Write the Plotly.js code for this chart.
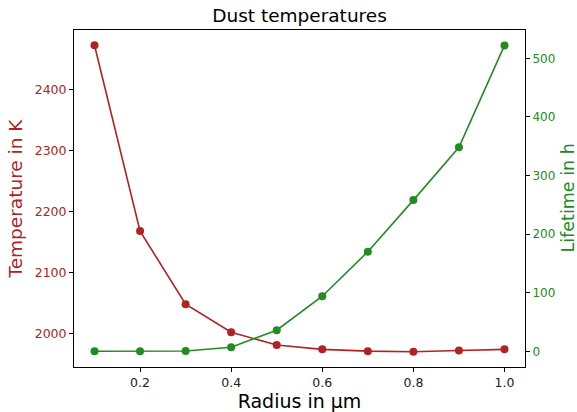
<!DOCTYPE html>
<html>
<head>
<meta charset="utf-8">
<script src="https://cdn.plot.ly/plotly-3.0.1.min.js"></script>
<style>html,body{margin:0;padding:0;background:#fff;}#chart{width:577px;height:412px;}</style>
</head>
<body>
<div id="chart"></div>
<script>
const radius = [0.1, 0.2, 0.3, 0.4, 0.5, 0.6, 0.7, 0.8, 0.9, 1.0];
const temperature = [2473, 2168, 2048, 2002, 1981, 1974, 1971, 1970, 1972, 1974];
const lifetime = [0, 0, 0.5, 7, 36, 94, 170, 258, 348, 522];
const tempTicks = [2000, 2100, 2200, 2300, 2400];
const lifeTicks = [0, 100, 200, 300, 400, 500];
const xTicks = [0.2, 0.4, 0.6, 0.8, 1.0];

const red = '#b22222';
const green = '#228b22';
const font = 'DejaVu Sans, sans-serif';

const traces = [
  {x: radius, y: temperature, type: 'scatter', mode: 'lines+markers', name: 'Temperature',
   line: {color: red, width: 1.6}, marker: {color: red, size: 8}, yaxis: 'y'},
  {x: radius, y: lifetime, type: 'scatter', mode: 'lines+markers', name: 'Lifetime',
   line: {color: green, width: 1.6}, marker: {color: green, size: 8}, yaxis: 'y2'}
];

const layout = {
  width: 577, height: 412,
  margin: {l: 74, r: 52, t: 30, b: 45, pad: 0},
  paper_bgcolor: '#fff', plot_bgcolor: '#fff',
  showlegend: false,
  font: {family: font, color: '#222'},
  title: {text: 'Dust temperatures', font: {size: 18.5, color: '#000', family: font},
          x: 0.5, xref: 'paper', y: 1 - 16/412, yref: 'container', yanchor: 'middle'},
  xaxis: {range: [0.055, 1.045], tickvals: xTicks, ticktext: xTicks.map(v => v.toFixed(1)),
          showgrid: false, zeroline: false, showline: true, mirror: true, linecolor: '#000', linewidth: 1,
          ticks: 'outside', ticklen: 4, tickcolor: '#000', tickfont: {size: 12.5, color: '#222'},
          title: {text: 'Radius in µm', font: {size: 19, color: '#000'}, standoff: 5}},
  yaxis: {range: [1945, 2498], tickvals: tempTicks, showgrid: false, zeroline: false,
          showline: true, linecolor: '#000', linewidth: 1,
          ticks: 'outside', ticklen: 4, tickcolor: '#000', tickfont: {size: 12.5, color: red},
          title: {text: 'Temperature in K', font: {size: 18.5, color: red}, standoff: 7}},
  yaxis2: {range: [-26.8, 548.3], tickvals: lifeTicks, overlaying: 'y', side: 'right',
          showgrid: false, zeroline: false, showline: true, linecolor: '#000', linewidth: 1,
          ticks: 'outside', ticklen: 4, tickcolor: '#000', tickfont: {size: 12, color: green}},
  annotations: [{text: 'Lifetime in h', xref: 'paper', yref: 'paper', x: 1, y: 0.5,
                 xanchor: 'center', yanchor: 'middle', xshift: 42, textangle: -90, showarrow: false,
                 font: {size: 17.5, color: green, family: font}}]
};

Plotly.newPlot('chart', traces, layout, {displayModeBar: false, staticPlot: true});
</script>
</body>
</html>
